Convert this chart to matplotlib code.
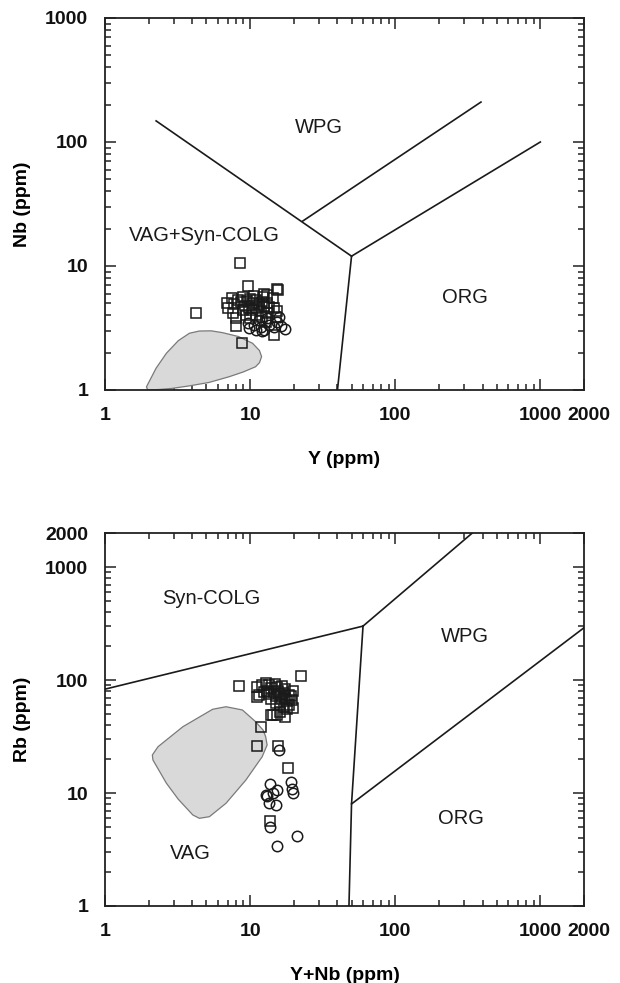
import numpy as np
import matplotlib
matplotlib.use('Agg')
import matplotlib.pyplot as plt
from matplotlib.patches import Polygon
from matplotlib.ticker import FixedLocator, LogLocator, NullFormatter
from matplotlib.transforms import ScaledTranslation

plt.rcParams['font.family'] = ['Liberation Sans', 'DejaVu Sans']

# Nb vs Y : granite samples
nb_y_sq_y = [8.5, 4.25, 9.6, 15.4, 7.5, 6.9, 7.0, 7.6, 8.0, 8.0, 8.85, 13.1, 14.3, 14.6, 15.4,
             15.0, 14.6, 9.35, 12.8, 9.0, 9.5, 10.0, 10.5, 11.0, 11.5, 12.0, 12.5, 9.2, 9.8,
             10.3, 11.2, 11.8, 12.3, 13.0, 13.5, 10.7, 9.0, 8.7, 11.0, 12.0, 13.2, 10.0, 12.5,
             7.8, 8.3, 15.6]
nb_y_sq_nb = [10.5, 4.15, 6.9, 6.5, 5.5, 5.0, 4.6, 4.15, 3.8, 3.3, 2.4, 5.85, 5.5, 4.55, 4.3,
              3.9, 2.8, 4.0, 3.55, 5.6, 5.2, 5.4, 5.0, 5.3, 4.9, 5.1, 4.8, 4.8, 4.6,
              4.4, 4.6, 4.3, 5.6, 5.0, 4.7, 5.7, 4.4, 5.1, 4.0, 3.9, 4.2, 3.8, 6.0,
              4.9, 5.3, 6.4]
nb_y_ci_y = [17.5, 15.8, 15.4, 14.6, 12.5, 10.9, 9.85, 9.6, 10.6, 11.8, 13.5, 11.5, 13.1, 12.0, 16.2]
nb_y_ci_nb = [3.1, 3.9, 3.55, 3.25, 3.05, 3.05, 3.15, 3.45, 3.35, 3.25, 3.35, 3.65, 3.8, 3.0, 3.3]

# Rb vs Y+Nb : granite samples
rb_sq_x = [8.4, 22.4, 11.9, 11.2, 15.5, 18.2, 13.8, 14.4, 17.4, 19.7, 12.0, 12.9, 15.4, 17.4,
           19.8, 11.6, 11.2, 11.2, 13.9, 15.4, 13.0, 13.5, 14.0, 14.5, 15.0, 15.5, 16.0, 16.5,
           17.0, 17.5, 18.0, 18.5, 14.0, 15.0, 16.0, 17.0, 18.5, 19.5, 19.0, 13.5, 16.5, 14.8,
           12.5, 18.0, 16.0]
rb_sq_rb = [89, 109, 38.6, 26, 26, 16.7, 5.7, 49, 47, 56, 90, 95, 87, 84,
            80, 74, 87, 71, 49, 49, 80, 75, 85, 78, 72, 80, 75, 68,
            76, 70, 65, 74, 68, 62, 60, 58, 60, 66, 72, 90, 88, 92,
            78, 55, 52]
rb_ci_x = [15.9, 13.8, 19.1, 19.5, 19.8, 13.1, 14.4, 15.4, 13.5, 15.1, 13.7, 21.0, 15.4, 12.8]
rb_ci_rb = [24, 11.9, 12.4, 10.8, 10.1, 9.4, 9.9, 10.6, 8.1, 7.8, 5.0, 4.2, 3.4, 9.6]

# reference field outlines
field1_y = [1.93, 2.25, 2.65, 3.2, 3.82, 4.47, 5.4, 6.46, 8.3, 10.4, 11.6, 12.0, 11.6, 10.9,
            9.0, 7.18, 5.2, 3.82, 2.9, 2.38, 1.97]
field1_nb = [1.06, 1.5, 1.98, 2.5, 2.87, 2.99, 3.0, 2.9, 2.7, 2.38, 2.08, 1.86, 1.66, 1.54,
             1.4, 1.28, 1.15, 1.08, 1.03, 1.01, 1.0]
field2_x = [6.82, 8.85, 10.9, 12.3, 12.8, 13.1, 12.1, 9.34, 6.82, 5.24, 4.47, 4.03, 3.2,
            2.65, 2.14, 2.12, 2.32, 3.44, 5.52]
field2_rb = [58.0, 54.3, 42.8, 36, 31.5, 26.6, 20.9, 13.0, 8.11, 6.17, 5.97, 6.39, 8.8,
             12.2, 19.6, 21.7, 25.7, 38.6, 55.1]

# discrimination boundaries
nb_y_lines = [([2.25, 50], [148, 12]),
              ([50, 40], [12, 1]),
              ([50, 1000], [12, 100]),
              ([23, 390], [23, 210])]
rb_lines = [([1, 60], [83, 300]),
            ([60, 340], [300, 2000]),
            ([60, 50, 48], [300, 8, 1]),
            ([50, 2000], [8, 290])]

xticks = [1, 10, 100, 1000, 2000]

fig = plt.figure(figsize=(6.2, 9.83), dpi=100)
ax1 = fig.add_axes([105 / 620, 1 - 390 / 983, 479 / 620, 372 / 983])
ax2 = fig.add_axes([105 / 620, 1 - 906 / 983, 479 / 620, 373 / 983])

sq_style = dict(marker='s', ms=7, mfc='none', mec='#1a1a1a', mew=1.1, ls='none', zorder=4)
ci_style = dict(marker='o', ms=7.5, mfc='none', mec='#1a1a1a', mew=1.1, ls='none', zorder=4)
field_style = dict(closed=True, fc='#d9d9d9', ec='#7a7a7a', lw=0.9, zorder=2, joinstyle='round')
zone_font = dict(fontsize=14.5, ha='center', va='center', color='#1a1a1a')


def style_axes(ax, yticks):
    ax.set_xscale('log')
    ax.set_yscale('log')
    ax.set_xlim(1, 2000)
    ax.set_ylim(yticks[0], yticks[-1])
    ax.xaxis.set_major_locator(FixedLocator(xticks))
    ax.set_xticklabels([str(t) for t in xticks])
    ax.yaxis.set_major_locator(FixedLocator(yticks))
    ax.set_yticklabels([str(t) for t in yticks])
    for axis in (ax.xaxis, ax.yaxis):
        axis.set_minor_locator(LogLocator(subs=np.arange(2, 10)))
        axis.set_minor_formatter(NullFormatter())
    ax.tick_params(which='both', direction='in', top=True, right=True, width=1.1, color='#222222')
    ax.tick_params(which='major', length=8, pad=12, labelsize=14, labelcolor='#111111')
    ax.tick_params(which='minor', length=4.5)
    for lab in ax.get_xticklabels() + ax.get_yticklabels():
        lab.set_fontweight('bold')
    # push the 2000 label a little to the right so it clears 1000
    last = ax.get_xticklabels()[-1]
    last.set_transform(last.get_transform() + ScaledTranslation(5 / 100, 0, fig.dpi_scale_trans))
    for sp in ax.spines.values():
        sp.set_linewidth(1.3)
        sp.set_color('#222222')


# Nb - Y diagram
style_axes(ax1, [1, 10, 100, 1000])
ax1.add_patch(Polygon(np.column_stack([field1_y, field1_nb]), **field_style))
for xs, ys in nb_y_lines:
    ax1.plot(xs, ys, color='#1a1a1a', lw=1.2, zorder=3)
ax1.plot(nb_y_sq_y, nb_y_sq_nb, **sq_style)
ax1.plot(nb_y_ci_y, nb_y_ci_nb, **ci_style)
ax1.text(30, 130, 'WPG', **zone_font)
ax1.text(4.84, 17.5, 'VAG+Syn-COLG', **zone_font)
ax1.text(300, 5.6, 'ORG', **zone_font)
ax1.set_xlabel('Y (ppm)', fontsize=14, fontweight='bold', labelpad=20)
ax1.set_ylabel('Nb (ppm)', fontsize=14, fontweight='bold', labelpad=10)

# Rb - (Y+Nb) diagram
style_axes(ax2, [1, 10, 100, 1000, 2000])
ax2.add_patch(Polygon(np.column_stack([field2_x, field2_rb]), **field_style))
for xs, ys in rb_lines:
    ax2.plot(xs, ys, color='#1a1a1a', lw=1.2, zorder=3)
ax2.plot(rb_sq_x, rb_sq_rb, **sq_style)
ax2.plot(rb_ci_x, rb_ci_rb, **ci_style)
ax2.text(5.41, 528, 'Syn-COLG', **zone_font)
ax2.text(300, 245, 'WPG', **zone_font)
ax2.text(285, 6.0, 'ORG', **zone_font)
ax2.text(3.88, 2.94, 'VAG', **zone_font)
ax2.set_xlabel('Y+Nb (ppm)', fontsize=14, fontweight='bold', labelpad=20)
ax2.set_ylabel('Rb (ppm)', fontsize=14, fontweight='bold', labelpad=10)

fig.savefig('out.png', dpi=100)
plt.close(fig)
